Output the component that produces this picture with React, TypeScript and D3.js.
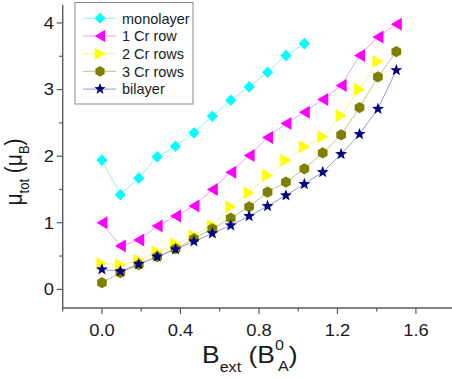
import React from "react";
import * as d3 from "d3";

const STEP = 0.09375;
const monolayer = [1.94, 1.42, 1.67, 1.99, 2.15, 2.35, 2.6, 2.84, 3.04, 3.26, 3.51, 3.69];
const oneCrRow = [1.0, 0.65, 0.74, 0.95, 1.1, 1.25, 1.5, 1.76, 2.01, 2.28, 2.49, 2.66, 2.85, 3.06, 3.51, 3.79, 3.98];
const twoCrRows = [0.39, 0.37, 0.44, 0.56, 0.68, 0.81, 0.96, 1.24, 1.45, 1.71, 1.94, 2.14, 2.29, 2.61, 3.0, 3.42];
const threeCrRows = [0.1, 0.25, 0.37, 0.49, 0.61, 0.76, 0.91, 1.07, 1.24, 1.46, 1.61, 1.81, 2.05, 2.32, 2.73, 3.19, 3.57];
const bilayer = [0.3, 0.27, 0.38, 0.49, 0.6, 0.72, 0.84, 0.96, 1.1, 1.25, 1.41, 1.58, 1.76, 2.03, 2.33, 2.71, 3.29];

const seriesNames = ["monolayer", "1 Cr row", "2 Cr rows", "3 Cr rows", "bilayer"];
const xTickValues = [0, 0.4, 0.8, 1.2, 1.6];
const xTickLabels = ["0.0", "0.4", "0.8", "1.2", "1.6"];
const xMinorValues = [-0.2, 0.2, 0.6, 1.0, 1.4];
const yTickValues = [0, 1, 2, 3, 4];
const yTickLabels = ["0", "1", "2", "3", "4"];
const yMinorValues = [0.5, 1.5, 2.5, 3.5];

const colors = ["#00ffff", "#ff00ff", "#ffff00", "#808000", "#000080"];
const lineColors = ["#8ff0f0", "#f59af5", "#f8f890", "#c2c28a", "#9a9ad0"];
const shapes = ["diamond", "left", "right", "hex", "star"];

function markerPath(shape: string): string {
  if (shape === "diamond") return "M0,-5.8L5.6,0L0,5.8L-5.6,0Z";
  if (shape === "left") return "M-5.5,0L5.5,-6.5L5.5,6.5Z";
  if (shape === "right") return "M5.5,0L-5.5,-6.5L-5.5,6.5Z";
  if (shape === "hex") {
    const p = d3.range(6).map((i) => {
      const a = (Math.PI / 3) * i + Math.PI / 6;
      return [5.6 * Math.cos(a), 5.6 * Math.sin(a)];
    });
    return "M" + p.map((q) => q[0].toFixed(2) + "," + q[1].toFixed(2)).join("L") + "Z";
  }
  const pts = d3.range(10).map((i) => {
    const r = i % 2 === 0 ? 6.3 : 2.6;
    const a = -Math.PI / 2 + (Math.PI / 5) * i;
    return [r * Math.cos(a), r * Math.sin(a)];
  });
  return "M" + pts.map((q) => q[0].toFixed(2) + "," + q[1].toFixed(2)).join("L") + "Z";
}

export default function App() {
  const W = 452;
  const H = 379;
  const x = d3.scaleLinear().domain([-0.2, 1.8]).range([62.7, 455.2]);
  const y = d3.scaleLinear().domain([-0.28, 4.27]).range([308, 5]);
  const all = [monolayer, oneCrRow, twoCrRows, threeCrRows, bilayer];
  const line = d3
    .line<number>()
    .x((_, i) => x(i * STEP))
    .y((d) => y(d));
  const axisColor = "#5a5a5a";
  const font = "'Liberation Sans', Arial, sans-serif";
  const SX = 1.15;
  const legendRows = [18.3, 36, 53.7, 71.4, 89.1];

  return (
    <svg width={W} height={H} style={{ position: "absolute", left: 0, top: 0, background: "#fff" }} fontFamily={font}>
      <rect x={0} y={0} width={W} height={H} fill="#fff" />
      {all.map((s, k) => (
        <path key={"l" + k} d={line(s) || ""} fill="none" stroke={lineColors[k]} strokeWidth={1} />
      ))}
      {all.map((s, k) => (
        <g key={"m" + k}>
          {s.map((v, i) => (
            <path key={i} d={markerPath(shapes[k])} transform={`translate(${x(i * STEP)},${y(v)})`} fill={colors[k]} />
          ))}
        </g>
      ))}
      {/* axes */}
      <line x1={x(-0.2)} x2={W} y1={308} y2={308} stroke={axisColor} strokeWidth={1.4} />
      <line x1={62.7} x2={62.7} y1={5} y2={308.7} stroke={axisColor} strokeWidth={1.4} />
      {xTickValues.map((v) => (
        <line key={"xt" + v} x1={x(v)} x2={x(v)} y1={308} y2={314} stroke={axisColor} strokeWidth={1.2} />
      ))}
      {xMinorValues.map((v) => (
        <line key={"xm" + v} x1={x(v)} x2={x(v)} y1={308} y2={311.5} stroke={axisColor} strokeWidth={1.2} />
      ))}
      {yTickValues.map((v) => (
        <line key={"yt" + v} x1={56.7} x2={62.7} y1={y(v)} y2={y(v)} stroke={axisColor} strokeWidth={1.2} />
      ))}
      {yMinorValues.map((v) => (
        <line key={"ym" + v} x1={59.2} x2={62.7} y1={y(v)} y2={y(v)} stroke={axisColor} strokeWidth={1.2} />
      ))}
      {xTickValues.map((v, i) => (
        <g key={"xl" + v} transform={`translate(${x(v)},336) scale(${SX},1)`}>
          <text textAnchor="middle" fontSize={16} fill="#1a1a1a">
            {xTickLabels[i]}
          </text>
        </g>
      ))}
      {yTickValues.map((v, i) => (
        <g key={"yl" + v} transform={`translate(54,${y(v) + 5.8}) scale(${SX},1)`}>
          <text textAnchor="end" fontSize={16} fill="#1a1a1a">
            {yTickLabels[i]}
          </text>
        </g>
      ))}
      {/* x label */}
      <g transform={`translate(202,363) scale(${SX},1)`}>
        <text fontSize={23} fill="#1a1a1a">
          <tspan>B</tspan>
          <tspan fontSize={14} dy={9}>ext</tspan>
          <tspan dy={-9}> (B</tspan>
          <tspan fontSize={14} dy={-13}>0</tspan>
          <tspan fontSize={14} dx={-5} dy={21}>A</tspan>
          <tspan dy={-8}>)</tspan>
        </text>
      </g>
      {/* y label */}
      <g transform={`translate(22,172) scale(${SX},1) rotate(-90)`}>
        <text textAnchor="middle" fontSize={21} fill="#1a1a1a">
          <tspan>μ</tspan>
          <tspan fontSize={13} dy={6}>tot</tspan>
          <tspan dy={-6}> (μ</tspan>
          <tspan fontSize={13} dy={6}>B</tspan>
          <tspan dy={-6}>)</tspan>
        </text>
      </g>
      {/* legend */}
      <rect x={75} y={2.5} width={118} height={101.5} fill="#fff" stroke="#8a8a8a" strokeWidth={1} />
      {seriesNames.map((name, k) => (
        <g key={"lg" + k}>
          <line x1={83} x2={116} y1={legendRows[k]} y2={legendRows[k]} stroke={lineColors[k]} strokeWidth={1} />
          <path d={markerPath(shapes[k])} transform={`translate(100,${legendRows[k]}) scale(0.95)`} fill={colors[k]} />
          <text x={122} y={legendRows[k] + 5.2} fontSize={14.5} fill="#1a1a1a">
            {name}
          </text>
        </g>
      ))}
    </svg>
  );
}
